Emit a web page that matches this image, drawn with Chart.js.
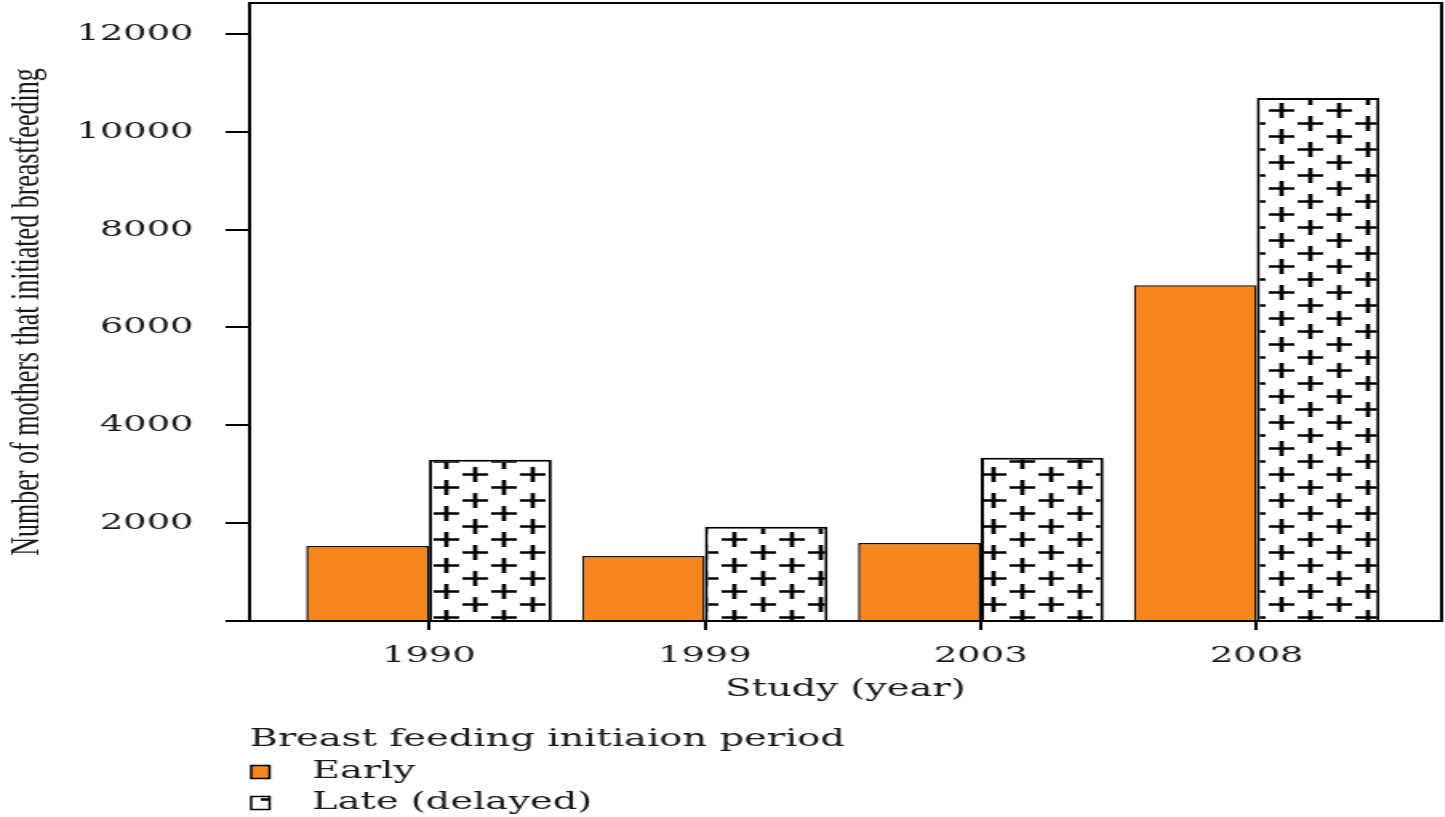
<!DOCTYPE html>
<html>
<head>
<meta charset="utf-8">
<script src="https://cdn.jsdelivr.net/npm/chart.js@4.4.1/dist/chart.umd.min.js"></script>
<style>
html, body { margin: 0; padding: 0; background: #fff; overflow: hidden; }
/* the reference is stretched sideways, so the canvas is too */
#wrap { width: 903px; height: 817px; transform: scaleX(1.6); transform-origin: 0 0; }
</style>
</head>
<body>
<div id="wrap"><canvas id="bar-chart-canvas" width="903" height="817"></canvas></div>
<script>
const studyYears = ['1990', '1999', '2003', '2008'];
const earlyValues = [1535, 1330, 1595, 6860];
const lateValues = [3295, 1925, 3335, 10690];
const yTicks = [0, 2000, 4000, 6000, 8000, 10000, 12000];
const seriesLabels = ['Early', 'Late (delayed)'];
const legendTitle = 'Breast feeding initiaion period';
const yTitle = 'Number of mothers that initiated breastfeeding';
const xTitle = 'Study (year)';

const orange = '#f7861e';
const textColor = '#1a1a1a';

function plusPattern(ctx) {
    const c = document.createElement('canvas');
    c.width = 36;
    c.height = 26;
    const g = c.getContext('2d');
    g.fillStyle = '#fff';
    g.fillRect(0, 0, 36, 26);
    g.strokeStyle = '#000';
    g.lineWidth = 2.7;
    const centers = [[9, 6.5], [27, 19.5]];
    centers.forEach(([cx, cy]) => {
        [-36, 0, 36].forEach(dx => {
            [-26, 0, 26].forEach(dy => {
                g.beginPath();
                g.moveTo(cx + dx - 8, cy + dy);
                g.lineTo(cx + dx + 8, cy + dy);
                g.moveTo(cx + dx, cy + dy - 7.5);
                g.lineTo(cx + dx, cy + dy + 7.5);
                g.stroke();
            });
        });
    });
    return ctx.createPattern(c, 'repeat');
}

// top and right sides of the box
const framePlugin = {
    id: 'frame',
    afterDatasetsDraw(chart) {
        const {ctx, chartArea: a} = chart;
        ctx.save();
        ctx.strokeStyle = '#000';
        ctx.lineWidth = 2;
        ctx.beginPath();
        ctx.moveTo(a.left, a.top);
        ctx.lineTo(a.right, a.top);
        ctx.lineTo(a.right, a.bottom);
        ctx.stroke();
        ctx.restore();
    }
};

// legend stacked under the axis, one item per line
const stackedLegend = {
    id: 'stackedLegend',
    afterDraw(chart) {
        const ctx = chart.ctx;
        const left = chart.chartArea.left;
        const top = chart.chartArea.bottom;
        ctx.save();
        ctx.font = '24px "DejaVu Serif"';
        ctx.textBaseline = 'middle';
        ctx.fillStyle = textColor;
        ctx.fillText(legendTitle, left, top + 119);
        chart.data.datasets.forEach((ds, i) => {
            const y = top + 151 + i * 31;
            ctx.fillStyle = ds.backgroundColor;
            ctx.fillRect(left + 1, y - 6.5, 11.5, 13);
            ctx.strokeStyle = '#000';
            ctx.lineWidth = 1.5;
            ctx.strokeRect(left + 1, y - 6.5, 11.5, 13);
            ctx.fillStyle = textColor;
            ctx.fillText(ds.label, left + 39, y);
        });
        ctx.restore();
    }
};

document.addEventListener("DOMContentLoaded", () => {
    LoadBarChart();
});

function LoadBarChart() {
    const canvas = document.getElementById('bar-chart-canvas');
    Chart.defaults.font.family = '"DejaVu Serif", serif';
    Chart.defaults.color = textColor;

    new Chart(canvas, {
        type: 'bar',
        data: {
            datasets: [
                {
                    label: seriesLabels[0],
                    data: earlyValues.map((v, i) => ({x: i, y: v})),
                    backgroundColor: orange,
                    borderColor: '#1a0e05',
                    borderWidth: 1.5,
                    barPercentage: 1,
                    categoryPercentage: 0.89
                },
                {
                    label: seriesLabels[1],
                    data: lateValues.map((v, i) => ({x: i, y: v})),
                    backgroundColor: plusPattern(canvas.getContext('2d')),
                    borderColor: '#000',
                    borderWidth: 2,
                    barPercentage: 1,
                    categoryPercentage: 0.89
                }
            ]
        },
        options: {
            responsive: false,
            animation: false,
            layout: { padding: { top: 3, right: 2, bottom: 110, left: 0 } },
            plugins: {
                legend: { display: false },
                tooltip: { enabled: false }
            },
            scales: {
                x: {
                    type: 'linear',
                    offset: false,
                    min: -0.65,
                    max: 3.67,
                    afterBuildTicks: s => { s.ticks = studyYears.map((_, i) => ({value: i})); },
                    afterFit: s => { s.height = 86; s.paddingLeft = 0; s.paddingRight = 0; },
                    ticks: {
                        callback: v => studyYears[v],
                        font: { size: 23 },
                        padding: 12,
                        maxRotation: 0
                    },
                    grid: { offset: false, drawOnChartArea: false, drawTicks: true, tickLength: 9, color: '#000', lineWidth: 2 },
                    border: { display: true, color: '#000', width: 2 },
                    title: { display: true, text: xTitle, font: { size: 24 }, padding: { top: 0, bottom: 3 } }
                },
                y: {
                    min: 0,
                    max: 12630,
                    afterBuildTicks: s => { s.ticks = yTicks.map(v => ({value: v})); },
                    afterFit: s => { s.width = 156; s.paddingTop = 0; s.paddingBottom = 0; },
                    ticks: {
                        callback: v => (v === 0 ? '' : String(v)),
                        font: { size: 23 },
                        padding: 20
                    },
                    grid: { drawOnChartArea: false, drawTicks: true, tickLength: 15, color: '#000', lineWidth: 2 },
                    border: { display: true, color: '#000', width: 2 },
                    title: {
                        display: true,
                        text: yTitle,
                        font: { family: '"Liberation Serif", serif', size: 26 },
                        padding: { top: 2, bottom: 0 }
                    }
                }
            }
        },
        plugins: [framePlugin, stackedLegend]
    });
}
</script>
</body>
</html>
